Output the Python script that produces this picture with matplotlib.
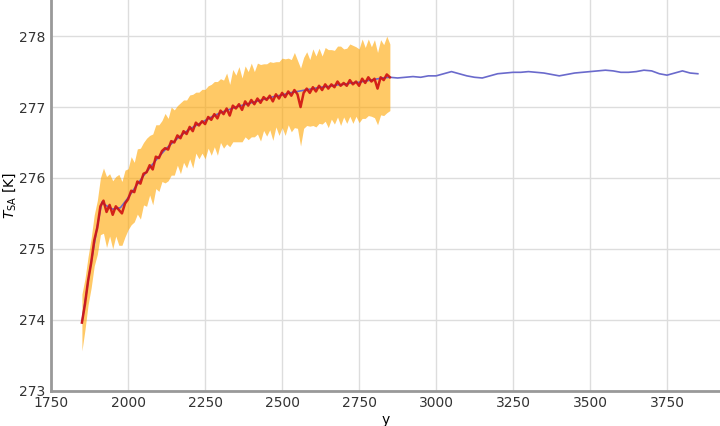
import matplotlib
matplotlib.use("Agg")
import matplotlib.pyplot as plt
import numpy as np

# historical reconstruction, every 10 years 1850-2850
red_years = np.arange(1850, 2851, 10)
red_temp = [
    273.96, 274.22, 274.55, 274.80, 275.12, 275.30, 275.60, 275.68, 275.52, 275.62,
    275.48, 275.60, 275.55, 275.50, 275.64, 275.70, 275.82, 275.80, 275.95, 275.92,
    276.06, 276.08, 276.18, 276.12, 276.30, 276.28, 276.38, 276.42, 276.40, 276.52,
    276.50, 276.60, 276.56, 276.66, 276.62, 276.72, 276.66, 276.78, 276.74, 276.80,
    276.76, 276.86, 276.82, 276.90, 276.84, 276.95, 276.90, 276.98, 276.88, 277.02,
    276.98, 277.04, 276.96, 277.08, 277.02, 277.10, 277.04, 277.12, 277.06, 277.14,
    277.10, 277.16, 277.08, 277.18, 277.12, 277.20, 277.14, 277.22, 277.16, 277.24,
    277.18, 277.00, 277.20, 277.26, 277.20, 277.28, 277.22, 277.30, 277.24, 277.32,
    277.26, 277.32, 277.28, 277.36, 277.30, 277.34, 277.30, 277.38, 277.32, 277.36,
    277.30, 277.40, 277.34, 277.42, 277.36, 277.40, 277.26, 277.42, 277.38, 277.46,
    277.42,
]
red_spread = [
    0.40, 0.36, 0.34, 0.35, 0.36, 0.38, 0.40, 0.46, 0.50, 0.44,
    0.48, 0.42, 0.50, 0.45, 0.47, 0.43, 0.48, 0.42, 0.46, 0.50,
    0.44, 0.48, 0.42, 0.50, 0.45, 0.47, 0.43, 0.49, 0.44, 0.48,
    0.46, 0.42, 0.50, 0.44, 0.48, 0.45, 0.52, 0.43, 0.47, 0.45,
    0.49, 0.44, 0.50, 0.46, 0.52, 0.45, 0.48, 0.50, 0.44, 0.51,
    0.47, 0.53, 0.45, 0.50, 0.48, 0.52, 0.46, 0.50, 0.54, 0.47,
    0.51, 0.48, 0.55, 0.46, 0.52, 0.49, 0.54, 0.47, 0.51, 0.53,
    0.48, 0.55, 0.50, 0.52, 0.47, 0.54, 0.50, 0.53, 0.48, 0.52,
    0.55, 0.49, 0.52, 0.50, 0.56, 0.48, 0.53, 0.51, 0.55, 0.49,
    0.52, 0.56, 0.50, 0.54, 0.49, 0.55, 0.51, 0.53, 0.50, 0.54,
    0.47,
]

# smooth model run 1850-3850
blue_years = [1850, 1875, 1900, 1915, 1925] + list(range(1950, 3851, 25))
blue_temp = [
    273.96, 274.68, 275.32, 275.66, 275.62,
    275.56, 275.58, 275.72, 275.88, 276.03, 276.17, 276.30, 276.42, 276.52, 276.61,
    276.69, 276.75, 276.81, 276.87, 276.92, 276.96, 277.00, 277.03, 277.06, 277.09,
    277.12, 277.15, 277.17, 277.20, 277.22, 277.24, 277.26, 277.28, 277.29, 277.31,
    277.32, 277.34, 277.35, 277.37, 277.39, 277.41, 277.42, 277.41, 277.42, 277.43,
    277.42, 277.44, 277.44, 277.47, 277.50, 277.47, 277.44, 277.42, 277.41, 277.44,
    277.47, 277.48, 277.49, 277.49, 277.50, 277.49, 277.48, 277.46, 277.44, 277.46,
    277.48, 277.49, 277.50, 277.51, 277.52, 277.51, 277.49, 277.49, 277.50, 277.52,
    277.51, 277.47, 277.45, 277.48, 277.51, 277.48, 277.47,
]

red_temp = np.array(red_temp)
red_spread = np.array(red_spread)

fig = plt.figure(figsize=(7.2, 4.26), dpi=100)
ax = fig.add_axes([0.071, 0.083, 0.929, 0.917])

ax.fill_between(red_years, red_temp - red_spread, red_temp + red_spread,
                color='orange', alpha=0.6, linewidth=0, zorder=2)
ax.plot(blue_years, blue_temp, color='#6a6acc', lw=1.2, zorder=3)
ax.plot(red_years, red_temp, color='#d01010', lw=1.8, alpha=0.9, zorder=4)

ax.set_xlim(1750, 3922)
ax.set_ylim(273, 278.51)
ax.set_xticks(np.arange(1750, 3751, 250))
ax.set_yticks([273, 274, 275, 276, 277, 278])
ax.grid(True, color='#dddddd', lw=1)
ax.set_axisbelow(True)
for s in ['top', 'right']:
    ax.spines[s].set_visible(False)
for s in ['left', 'bottom']:
    ax.spines[s].set_color('#999999')
    ax.spines[s].set_linewidth(2)
ax.tick_params(length=0, labelsize=10, pad=4, colors='#333333')
ax.set_xlabel('y', fontsize=10, labelpad=2)
ax.set_ylabel(r'$T_{\mathrm{SA}}$ [K]', fontsize=10, labelpad=1)

plt.savefig('out.png', dpi=100)
